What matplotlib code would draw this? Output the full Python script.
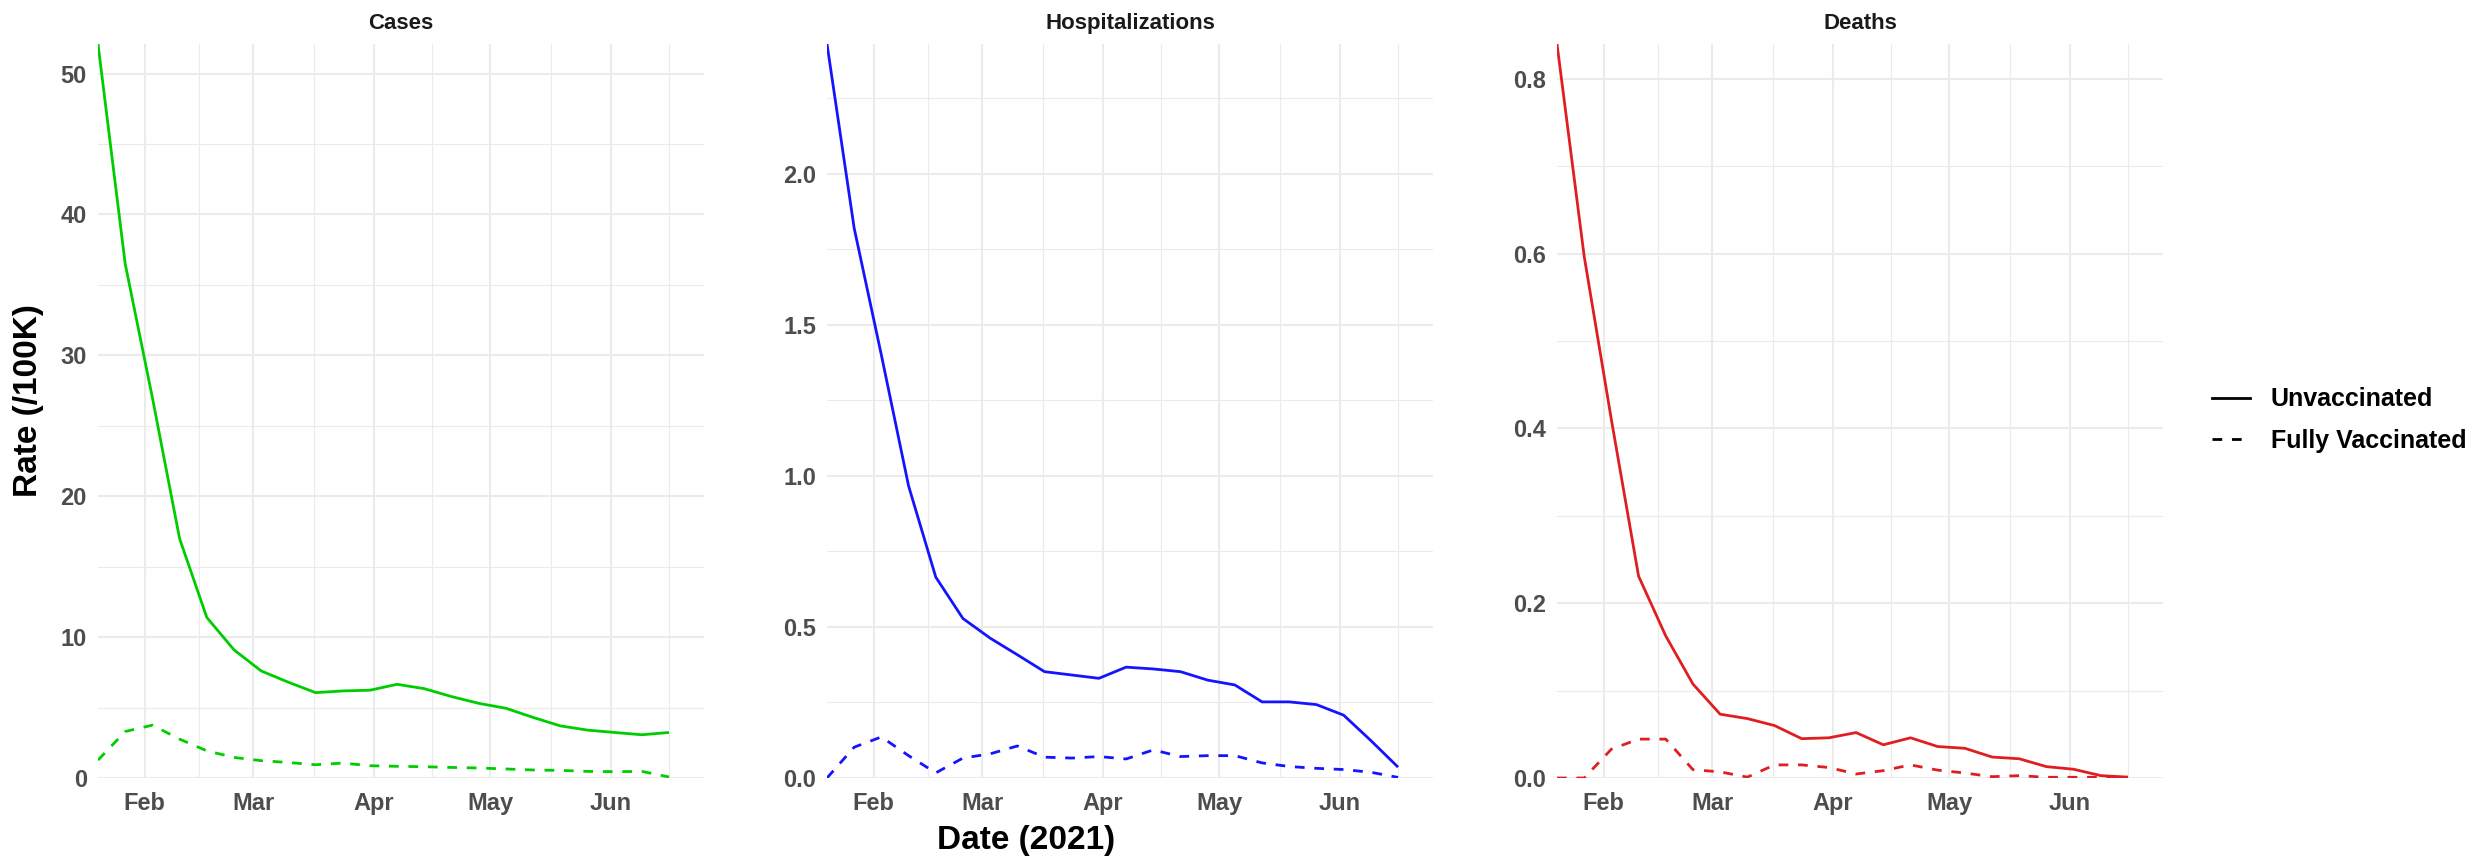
import numpy as np
import pandas as pd
import matplotlib
matplotlib.use("Agg")
import matplotlib.pyplot as plt
import matplotlib.dates as mdates
from matplotlib.lines import Line2D

plt.rcParams['font.family'] = ['Liberation Sans', 'DejaVu Sans']
plt.rcParams['font.weight'] = 'bold'

# weekly reporting dates
weeks = pd.date_range('2021-01-20', periods=22, freq='7D')

# rates per 100K
cases_unvax = [52.1, 36.5, 27.0, 17.0, 11.4, 9.1, 7.6, 6.8, 6.06, 6.18, 6.23, 6.65,
               6.34, 5.78, 5.3, 4.95, 4.3, 3.7, 3.4, 3.23, 3.07, 3.23]
cases_vax = [1.27, 3.3, 3.75, 2.76, 1.93, 1.46, 1.23, 1.1, 0.94, 1.06, 0.87, 0.83,
             0.8, 0.75, 0.71, 0.64, 0.57, 0.54, 0.47, 0.45, 0.47, 0.07]

hosp_unvax = [2.43, 1.82, 1.40, 0.967, 0.665, 0.528, 0.463, 0.408, 0.352, 0.341, 0.33,
              0.367, 0.361, 0.352, 0.324, 0.308, 0.252, 0.252, 0.243, 0.208, 0.124, 0.036]
hosp_vax = [0.0, 0.102, 0.136, 0.074, 0.017, 0.066, 0.08, 0.106, 0.069, 0.066, 0.071,
            0.063, 0.093, 0.071, 0.074, 0.074, 0.05, 0.038, 0.032, 0.028, 0.019, 0.002]

deaths_unvax = [0.84, 0.597, 0.41, 0.231, 0.1625, 0.1075, 0.073, 0.068, 0.060, 0.045,
                0.046, 0.052, 0.038, 0.046, 0.036, 0.034, 0.024, 0.022, 0.013, 0.010,
                0.0027, 0.001]
deaths_vax = [0.0, 0.0, 0.033, 0.0445, 0.0445, 0.0095, 0.007, 0.001, 0.015, 0.015, 0.012,
              0.0046, 0.0084, 0.015, 0.009, 0.0057, 0.0015, 0.0027, 0.0008, 0.0008,
              0.0008, 0.0008]

panels = ['Cases', 'Hospitalizations', 'Deaths']
colors = ['#00CD00', '#1414FF', '#E01E22']
unvax = [cases_unvax, hosp_unvax, deaths_unvax]
vax = [cases_vax, hosp_vax, deaths_vax]
ymax = [52.1, 2.43, 0.84]
ymajor = [np.arange(0, 51, 10), np.arange(0, 2.01, 0.5), np.arange(0, 0.81, 0.2)]
yminor = [np.arange(5, 51, 10), np.arange(0.25, 2.5, 0.5), np.arange(0.1, 0.85, 0.2)]
ylabfmt = ['{:.0f}', '{:.1f}', '{:.1f}']

month_ticks = pd.to_datetime(['2021-02-01', '2021-03-01', '2021-04-01', '2021-05-01', '2021-06-01'])
mid_ticks = pd.to_datetime(['2021-02-15 00:00', '2021-03-16 12:00', '2021-04-16 00:00',
                            '2021-05-16 12:00', '2021-06-16 00:00'])
xlim = (pd.Timestamp('2021-01-20'), pd.Timestamp('2021-06-25'))

W, H = 2488, 856
fig = plt.figure(figsize=(W / 100, H / 100), dpi=100)
lefts = [98, 827, 1557]
pw = 606
top, bot = 44, 778

grid_col = '#EBEBEB'
tick_col = '#4D4D4D'

axes = []
for i, name in enumerate(panels):
    ax = fig.add_axes([lefts[i] / W, 1 - bot / H, pw / W, (bot - top) / H])
    axes.append(ax)
    ax.plot(weeks, unvax[i], color=colors[i], lw=2.0, solid_capstyle='butt')
    ax.plot(weeks, vax[i], color=colors[i], lw=2.0, linestyle=(0, (3.5, 3.5)))
    ax.set_xlim(*xlim)
    ax.set_ylim(0, ymax[i])
    ax.set_yticks(ymajor[i])
    ax.set_yticklabels([ylabfmt[i].format(v) for v in ymajor[i]])
    ax.set_yticks(yminor[i], minor=True)
    ax.set_xticks(month_ticks)
    ax.xaxis.set_major_formatter(mdates.DateFormatter('%b'))
    ax.set_xticks(mid_ticks, minor=True)
    ax.grid(which='major', color=grid_col, lw=1.5)
    ax.grid(which='minor', color=grid_col, lw=0.8)
    ax.set_axisbelow(True)
    for s in ax.spines.values():
        s.set_visible(False)
    ax.tick_params(which='both', length=0)
    ax.tick_params(axis='x', pad=10, labelsize=17, labelcolor=tick_col)
    ax.tick_params(axis='y', pad=8, labelsize=17, labelcolor=tick_col)
    for lab in ax.get_xticklabels() + ax.get_yticklabels():
        lab.set_fontweight('bold')
    ax.set_title(name, fontsize=16, fontweight='bold', color='#1A1A1A', pad=11)

fig.text(29 / W, 1 - 401 / H, 'Rate (/100K)', rotation=90, ha='center', va='center',
         fontsize=24, fontweight='bold')
fig.text(1026 / W, 1 - 841 / H, 'Date (2021)', ha='center', va='center',
         fontsize=24, fontweight='bold')

handles = [Line2D([], [], color='black', lw=2.0),
           Line2D([], [], color='black', lw=2.0, linestyle=(0, (3.5, 3.5)))]
fig.legend(handles, ['Unvaccinated', 'Fully Vaccinated'], loc='center left',
           bbox_to_anchor=(2212 / W, 1 - 420 / H), frameon=False, borderpad=0,
           borderaxespad=0, prop={'size': 18, 'weight': 'bold'}, handlelength=1.5,
           handletextpad=0.85, labelspacing=0.7)

fig.savefig('out.png', dpi=100)
